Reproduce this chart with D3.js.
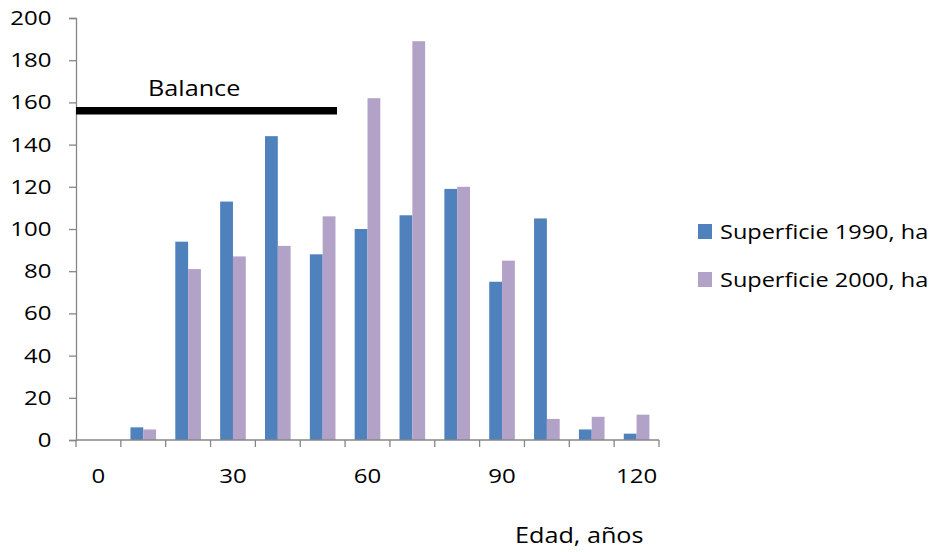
<!DOCTYPE html>
<html>
<head>
<meta charset="utf-8">
<script src="https://cdn.jsdelivr.net/npm/d3@7"></script>
<style>
  html, body { margin: 0; padding: 0; background: #fff; }
  svg text { font-family: "Open Sans", Lato, sans-serif; fill: #000; }
</style>
</head>
<body>
<svg id="chart" width="930" height="552"></svg>
<script>
// Age classes (years) on the x axis
const ages = [0, 10, 20, 30, 40, 50, 60, 70, 80, 90, 100, 110, 120];
// Area per age class, hectares
const area1990 = [0, 6, 94, 113, 144, 88, 100, 106.5, 119, 75, 105, 5, 3];
const area2000 = [0, 5, 81, 87, 92, 106, 162, 189, 120, 85, 10, 11, 12];
const seriesNames = ["Superficie 1990, ha", "Superficie 2000, ha"];
const seriesColors = ["#4F81BD", "#B3A2C7"];
const yTicks = [0, 20, 40, 60, 80, 100, 120, 140, 160, 180, 200];
const xLabelAges = [0, 30, 60, 90, 120];
// Balance reference level and the age span it covers
const balanceValue = 156;
const balanceSpan = [0, 50];

const svg = d3.select("#chart");
const plotLeft = 76, plotRight = 659, plotTop = 18, plotBottom = 440;
const fontFamily = "'Open Sans', Lato, sans-serif";
// Text is drawn slightly wide (horizontal stretch factor)
const textStretch = 1.2;

const x = d3.scaleBand().domain(ages).range([plotLeft, plotRight]).paddingInner(0).paddingOuter(0);
const inner = d3.scaleBand().domain([0, 1]).range([0, x.bandwidth()]).paddingInner(0).paddingOuter(0.75);
const y = d3.scaleLinear().domain([0, 200]).range([plotBottom, plotTop]);

const axisColor = "#868686";

// Bars
const series = [area1990, area2000];
series.forEach((vals, s) => {
  svg.append("g").selectAll("rect").data(ages).join("rect")
    .attr("x", (d) => x(d) + inner(s))
    .attr("width", inner.bandwidth())
    .attr("y", (d, i) => y(vals[i]))
    .attr("height", (d, i) => y(0) - y(vals[i]))
    .attr("fill", seriesColors[s]);
});

// Y axis
const yAxis = svg.append("g").attr("transform", `translate(${plotLeft},0)`)
  .call(d3.axisLeft(y).tickValues(yTicks).tickSize(7).tickPadding(17.5));
yAxis.select(".domain").attr("stroke", axisColor).attr("stroke-width", 1.3);
yAxis.selectAll(".tick line").attr("stroke", axisColor).attr("stroke-width", 1.3);
yAxis.selectAll(".tick text").attr("font-size", 20).attr("fill", "#000")
  .style("font-family", fontFamily);

// X axis: tick marks on band edges, labels on selected bands
const xAxisG = svg.append("g");
xAxisG.append("line").attr("x1", plotLeft).attr("x2", plotRight).attr("y1", plotBottom).attr("y2", plotBottom)
  .attr("stroke", axisColor).attr("stroke-width", 1.3);
const edges = ages.map((d) => x(d)).concat([x(ages[ages.length - 1]) + x.bandwidth()]);
xAxisG.selectAll("line.tk").data(edges).join("line").attr("class", "tk")
  .attr("x1", (d) => d).attr("x2", (d) => d).attr("y1", plotBottom).attr("y2", plotBottom + 7)
  .attr("stroke", axisColor).attr("stroke-width", 1.3);
xAxisG.selectAll("text").data(xLabelAges).join("text")
  .attr("x", (d) => x(d) + x.bandwidth() / 2).attr("y", 483)
  .attr("text-anchor", "middle").attr("font-size", 20).text((d) => d);

// Balance line
svg.append("line")
  .attr("x1", x(balanceSpan[0])).attr("x2", x(balanceSpan[1]) + x.bandwidth() * 0.82)
  .attr("y1", y(balanceValue)).attr("y2", y(balanceValue))
  .attr("stroke", "#000").attr("stroke-width", 7.5);
svg.append("text").attr("x", 148).attr("y", 96).attr("font-size", 21).text("Balance");

// Legend
const legend = svg.append("g");
seriesNames.forEach((name, i) => {
  const ly = 231 + i * 48;
  legend.append("rect").attr("x", 698).attr("y", ly - 7).attr("width", 14).attr("height", 15)
    .attr("fill", seriesColors[i]);
  legend.append("text").attr("x", 720).attr("y", ly + 8).attr("font-size", 20)
    .attr("data-stretch", 1.175).text(name);
});

// X axis title
svg.append("text").attr("x", 515).attr("y", 543).attr("font-size", 21).text("Edad, años");

// Widen every label by the stretch factor
svg.selectAll("text").each(function () {
  const f = +this.getAttribute("data-stretch") || textStretch;
  const w = this.getComputedTextLength();
  d3.select(this).attr("textLength", w * f).attr("lengthAdjust", "spacingAndGlyphs");
});
</script>
</body>
</html>
